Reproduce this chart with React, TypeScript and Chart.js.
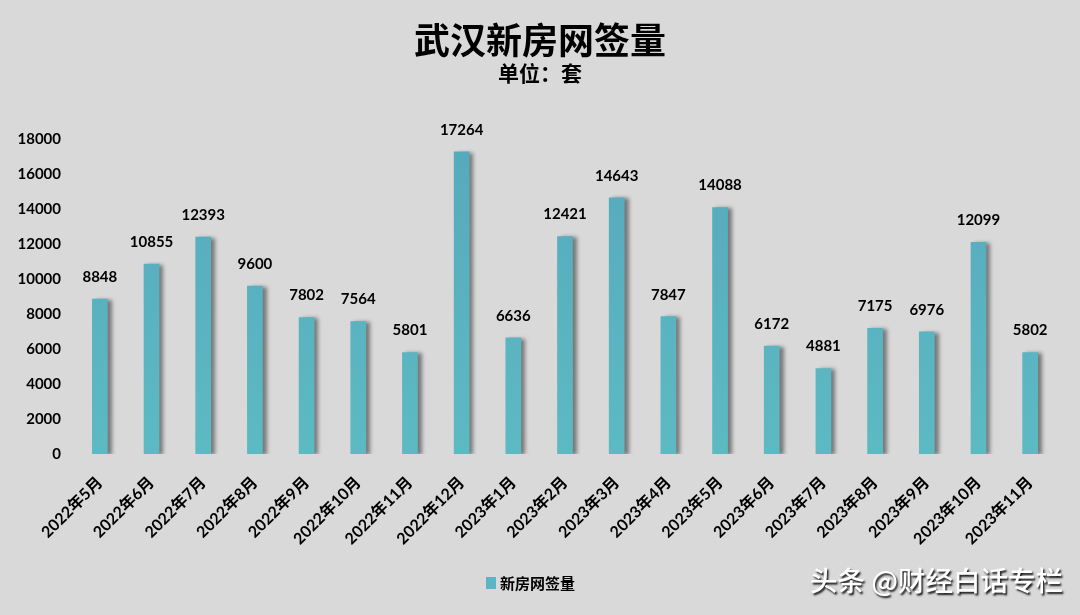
import React, { useEffect, useRef } from "react";
import { Chart, registerables } from "chart.js";

Chart.register(...registerables);

const categories: string[] = [
  "2022年5月", "2022年6月", "2022年7月", "2022年8月", "2022年9月", "2022年10月",
  "2022年11月", "2022年12月", "2023年1月", "2023年2月", "2023年3月", "2023年4月",
  "2023年5月", "2023年6月", "2023年7月", "2023年8月", "2023年9月", "2023年10月", "2023年11月",
];
const values: number[] = [
  8848, 10855, 12393, 9600, 7802, 7564, 5801, 17264, 6636, 12421, 14643, 7847,
  14088, 6172, 4881, 7175, 6976, 12099, 5802,
];
const seriesName = "新房网签量";
const titleText = "武汉新房网签量";
const subtitleText = "单位：套";
const watermarkText = "头条 @财经白话专栏";
const yMax = 18000;
const yStep = 2000;

const NUM_FONT = 'Lato, "Noto Sans CJK SC", sans-serif';
const CJK_FONT = '"Noto Sans CJK SC", sans-serif';

const decorPlugin = {
  id: "decor",
  beforeDraw(chart: any) {
    const { ctx, width, height } = chart;
    ctx.save();
    ctx.fillStyle = "#d9d9d9";
    ctx.fillRect(0, 0, width, height);
    ctx.restore();
  },
  beforeDatasetsDraw(chart: any) {
    const ctx = chart.ctx;
    ctx.save();
    ctx.shadowColor = "rgba(0,0,0,0.45)";
    ctx.shadowOffsetX = 4;
    ctx.shadowOffsetY = 1;
    ctx.shadowBlur = 4;
  },
  afterDatasetsDraw(chart: any) {
    const ctx = chart.ctx;
    ctx.restore();
    const meta = chart.getDatasetMeta(0);
    ctx.save();
    ctx.fillStyle = "#000";
    ctx.font = `bold 15px ${NUM_FONT}`;
    ctx.textAlign = "center";
    ctx.textBaseline = "middle";
    meta.data.forEach((bar: any, i: number) => {
      ctx.fillText(String(chart.data.datasets[0].data[i]), bar.x, bar.y - 22);
    });
    ctx.restore();
  },
  afterDraw(chart: any) {
    const { ctx, width } = chart;
    ctx.save();
    ctx.fillStyle = "#000";
    ctx.textAlign = "center";
    ctx.textBaseline = "middle";
    ctx.font = `bold 36px ${CJK_FONT}`;
    ctx.fillText(titleText, width / 2, 40);
    ctx.font = `bold 21px ${CJK_FONT}`;
    ctx.fillText(subtitleText, width / 2, 73);

    // legend
    ctx.fillStyle = "#5bb5c2";
    ctx.fillRect(486, 577, 10, 12);
    ctx.fillStyle = "#000";
    ctx.textAlign = "left";
    ctx.font = `bold 15px ${CJK_FONT}`;
    ctx.fillText(seriesName, 500, 583);

    // watermark
    ctx.font = `500 27.5px ${CJK_FONT}`;
    ctx.shadowColor = "rgba(0,0,0,0.9)";
    ctx.shadowOffsetX = 1.5;
    ctx.shadowOffsetY = 1.5;
    ctx.shadowBlur = 2;
    ctx.fillStyle = "#ffffff";
    ctx.fillText(watermarkText, 810, 581);
    ctx.restore();
  },
};

export default function App() {
  const ref = useRef<HTMLCanvasElement | null>(null);

  useEffect(() => {
    document.body.style.margin = "0";
    const canvas = ref.current!;
    const chart = new Chart(canvas, {
      type: "bar",
      data: {
        labels: categories,
        datasets: [
          {
            label: seriesName,
            data: values,
            backgroundColor: (c: any) => {
              const area = c.chart.chartArea;
              if (!area) return "#5bb5c2";
              const g = c.chart.ctx.createLinearGradient(0, area.top, 0, area.bottom);
              g.addColorStop(0, "#56a9bd");
              g.addColorStop(1, "#5cbac3");
              return g;
            },
            barThickness: 15,
            borderWidth: 0,
          },
        ],
      },
      options: {
        animation: false,
        responsive: false,
        devicePixelRatio: 1,
        layout: { padding: { top: 139, right: 24, left: 0, bottom: 0 } },
        plugins: {
          legend: { display: false },
          title: { display: false },
          tooltip: { enabled: false },
        },
        scales: {
          x: {
            grid: { display: false },
            border: { display: false },
            ticks: {
              color: "#000",
              font: { family: NUM_FONT, size: 16, weight: "bold" },
              maxRotation: 45,
              minRotation: 45,
              autoSkip: false,
              padding: 11,
            },
            afterFit: (s: any) => {
              s.height = 161;
            },
          },
          y: {
            min: 0,
            max: yMax,
            grid: { display: false },
            border: { display: false },
            ticks: {
              stepSize: yStep,
              color: "#000",
              font: { family: NUM_FONT, size: 15, weight: "bold" },
              padding: 5,
              callback: (v: any) => String(v),
            },
            afterFit: (s: any) => {
              s.width = 74;
            },
          },
        },
      },
      plugins: [decorPlugin],
    });
    return () => chart.destroy();
  }, []);

  return (
    <div style={{ position: "absolute", left: 0, top: 0, width: 1080, height: 615, background: "#d9d9d9" }}>
      <canvas ref={ref} width={1080} height={615} style={{ width: 1080, height: 615, display: "block" }} />
    </div>
  );
}
